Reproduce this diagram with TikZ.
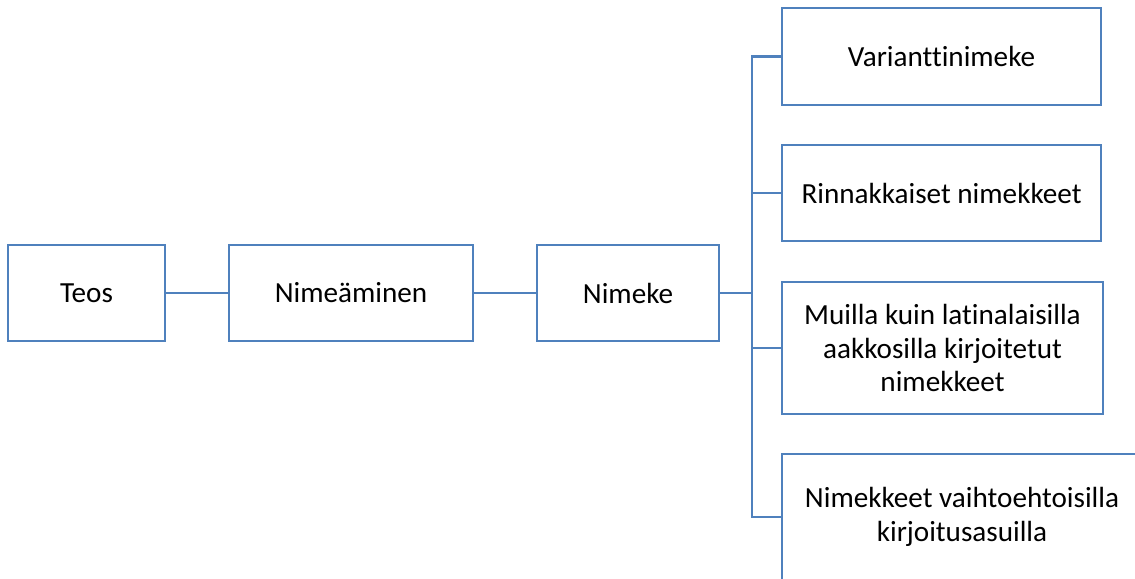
\documentclass[tikz,border=0pt]{standalone}
\usepackage{fontspec}
\setmainfont[Ligatures=CommonOff]{Carlito}
\usepackage{xcolor}
\definecolor{boxblue}{RGB}{79,129,189}

\tikzset{
    laatikko/.style={draw=boxblue, line width=1.5pt, rectangle, align=center,
        font=\fontsize{16.6}{19}\selectfont, inner sep=0pt},
    viiva/.style={draw=boxblue, line width=1.5pt}
}

\begin{document}
\begin{tikzpicture}[x=0.02cm, y=-0.02cm]
    \useasboundingbox (0,0) rectangle (1135,578);
    \node[laatikko, minimum width=157*0.02cm, minimum height=96*0.02cm] (teos) at (86.5,293) {Teos};
    \node[laatikko, minimum width=244*0.02cm, minimum height=96*0.02cm] (nimeaminen) at (351,293) {Nimeäminen};
    \node[laatikko, minimum width=182*0.02cm, minimum height=96*0.02cm] (nimeke) at (628,293) {Nimeke};
    \node[laatikko, minimum width=319*0.02cm, minimum height=97*0.02cm] (variantti) at (941.5,56.5) {Varianttinimeke};
    \node[laatikko, minimum width=319*0.02cm, minimum height=96*0.02cm] (rinnakkaiset) at (941.5,193) {Rinnakkaiset nimekkeet};
    \node[laatikko, minimum width=321*0.02cm, minimum height=132*0.02cm] (muilla) at (942.5,348) {Muilla kuin latinalaisilla\\aakkosilla kirjoitetut\\nimekkeet};
    \node[laatikko, minimum width=360*0.02cm, minimum height=126*0.02cm] (vaihtoehtoiset) at (962,517) {Nimekkeet vaihtoehtoisilla\\kirjoitusasuilla};
    \coordinate (haara) at (752,293);
    \draw[viiva] (teos) -- (nimeaminen);
    \draw[viiva] (nimeaminen) -- (nimeke);
    \draw[viiva] (nimeke.east) -- (haara);
    \draw[viiva] (variantti.west) -- (variantti.west -| haara) -- (vaihtoehtoiset.west -| haara) -- (vaihtoehtoiset.west);
    \draw[viiva] (rinnakkaiset.west) -- (rinnakkaiset.west -| haara);
    \draw[viiva] (muilla.west) -- (muilla.west -| haara);
\end{tikzpicture}
\end{document}
